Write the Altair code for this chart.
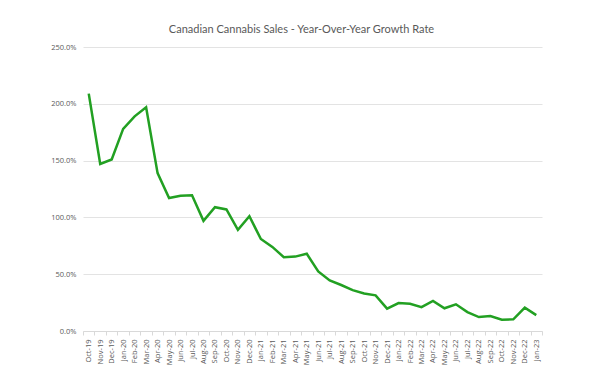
import altair as alt
import pandas as pd

months = ["Oct-19", "Nov-19", "Dec-19", "Jan-20", "Feb-20", "Mar-20", "Apr-20", "May-20",
          "Jun-20", "Jul-20", "Aug-20", "Sep-20", "Oct-20", "Nov-20", "Dec-20", "Jan-21",
          "Feb-21", "Mar-21", "Apr-21", "May-21", "Jun-21", "Jul-21", "Aug-21", "Sep-21",
          "Oct-21", "Nov-21", "Dec-21", "Jan-22", "Feb-22", "Mar-22", "Apr-22", "May-22",
          "Jun-22", "Jul-22", "Aug-22", "Sep-22", "Oct-22", "Nov-22", "Dec-22", "Jan-23"]
growth_pct = [209, 147, 151, 178, 189, 197, 139, 117,
              119, 119.5, 97, 109, 107, 89, 101, 81,
              74, 65, 65.5, 68, 52.5, 44.5, 40.5, 36,
              33, 31.4, 19.7, 24.6, 24, 21, 26.4, 20,
              23.5, 16.7, 12.3, 13.2, 10, 10.3, 20.5, 14]
y_ticks = [0, 0.5, 1.0, 1.5, 2.0, 2.5]

df = pd.DataFrame({"month": months, "growth": [v / 100 for v in growth_pct]})

font = "Open Sans"
chart = alt.Chart(df).mark_line(color="#22a022", strokeWidth=2.5).encode(
    x=alt.X("month:N", sort=months, title=None,
            scale=alt.Scale(type="band", paddingInner=0, paddingOuter=0),
            axis=alt.Axis(labelAngle=-90, labelFontSize=7.5, labelColor="#595959",
                          labelFont=font, tickBand="extent", tickSize=4, tickColor="#d9d9d9",
                          domainColor="#d9d9d9", labelPadding=4, grid=False)),
    y=alt.Y("growth:Q", title=None,
            scale=alt.Scale(domain=[0, 2.5], nice=False),
            axis=alt.Axis(values=y_ticks, format=".1%", labelFontSize=7.5, labelColor="#595959",
                          labelFont=font, ticks=False, domain=False, gridColor="#e3e3e3",
                          labelPadding=7)),
).properties(
    width=459, height=284,
    autosize=alt.AutoSizeParams(type="none"),
    padding={"left": 75, "top": 39, "right": 50, "bottom": 45},
    title=alt.TitleParams("Canadian Cannabis Sales - Year-Over-Year Growth Rate",
                          font="Lato", fontSize=11, fontWeight="normal", color="#595959",
                          anchor="middle", dx=-11, offset=8),
).configure_view(stroke=None)

chart.save("out.html", embed_options={"renderer": "svg", "actions": False})
